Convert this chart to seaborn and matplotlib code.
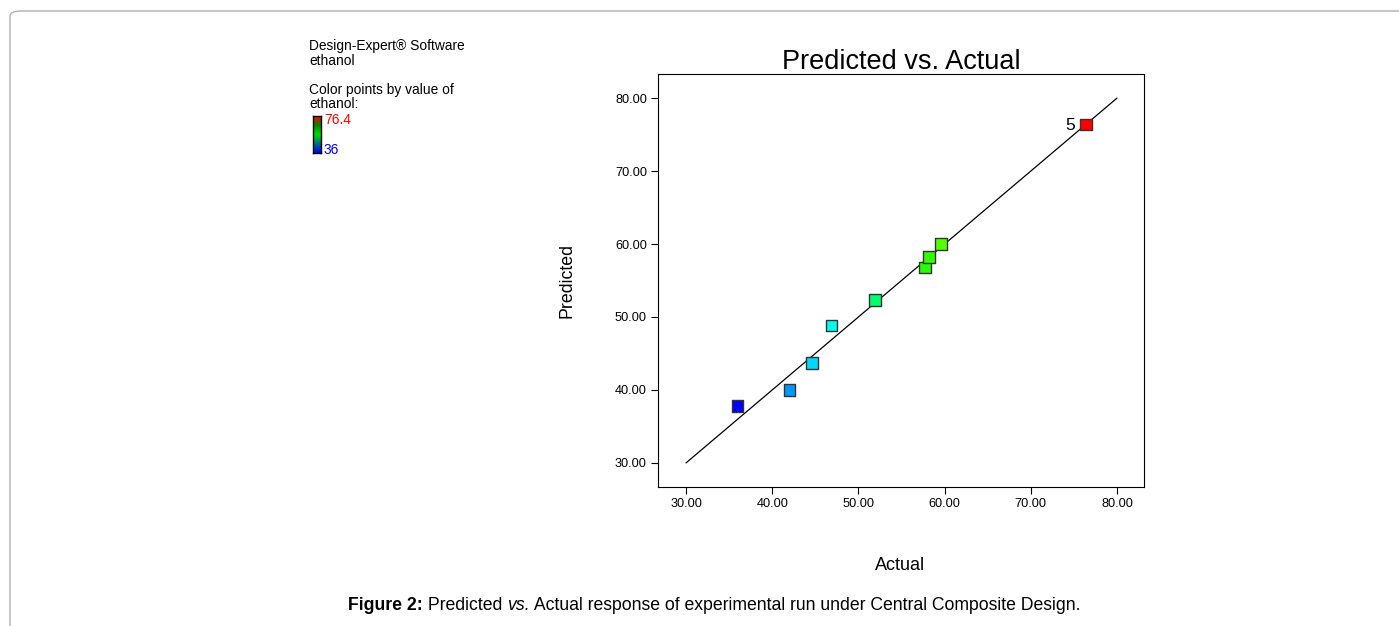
import numpy as np
import pandas as pd
import matplotlib
matplotlib.use("Agg")
import matplotlib.pyplot as plt
from matplotlib.colors import LinearSegmentedColormap, Normalize
from matplotlib.patches import FancyBboxPatch
from matplotlib.offsetbox import TextArea, HPacker, AnchoredOffsetbox
import seaborn as sns

# ---- data ----
actual = [36.0, 42.0, 44.6, 46.9, 51.9, 57.7, 58.2, 59.6, 76.4]
predicted = [37.8, 40.0, 43.7, 48.8, 52.3, 56.8, 58.2, 60.0, 76.4]
run_labels = ["", "", "", "", "", "", "", "", "5"]
line_x = [30.0, 80.0]
line_y = [30.0, 80.0]
ticks = [30.0, 40.0, 50.0, 60.0, 70.0, 80.0]
tick_labels = ["30.00", "40.00", "50.00", "60.00", "70.00", "80.00"]
color_min, color_max = 36.0, 76.4

sns.set_theme(style="white")
plt.rcParams['font.family'] = ['Liberation Sans', 'DejaVu Sans']
plt.rcParams['text.color'] = 'black'
plt.rcParams['axes.labelcolor'] = 'black'
plt.rcParams['xtick.color'] = 'black'
plt.rcParams['ytick.color'] = 'black'

W, H = 1399, 626
fig = plt.figure(figsize=(W / 100, H / 100), dpi=100)

def px_axes(x0, y0, x1, y1):
    return fig.add_axes([x0 / W, 1 - y1 / H, (x1 - x0) / W, (y1 - y0) / H])

# border
border = FancyBboxPatch((10 / W, -0.05), 1.2, (H - 11) / H + 0.05,
                        boxstyle="round,pad=0,rounding_size=0.008",
                        transform=fig.transFigure, fill=False,
                        edgecolor="#b0b0b0", linewidth=1.0)
fig.patches.append(border)

cmap = LinearSegmentedColormap.from_list(
    "de", [(0, "#0000ff"), (0.25, "#00ffff"), (0.5, "#00ff00"),
           (0.75, "#ffff00"), (1.0, "#ff0000")])
norm = Normalize(color_min, color_max)

ax = px_axes(658, 74, 1144, 487)
df = pd.DataFrame({"Actual": actual, "Predicted": predicted, "ethanol": actual})

sns.lineplot(x=line_x, y=line_y, ax=ax, color="black", linewidth=0.9)
sns.scatterplot(data=df, x="Actual", y="Predicted", hue="ethanol",
                palette=cmap, hue_norm=norm, marker="s", s=68,
                edgecolor="#333333", linewidth=1.0, legend=False, ax=ax, zorder=3)
for xa, yp, lab in zip(actual, predicted, run_labels):
    if lab:
        ax.annotate(lab, (xa, yp), xytext=(-8, -0.5), textcoords="offset points",
                    ha="right", va="center", fontsize=12.5)

ax.set_xlim(26.75, 83.13)
ax.set_ylim(26.7, 83.3)
ax.set_xticks(ticks)
ax.set_xticklabels(tick_labels, fontsize=9.2)
ax.set_yticks(ticks)
ax.set_yticklabels(tick_labels, fontsize=9.2)
ax.tick_params(axis="both", direction="out", length=5, width=0.8,
               bottom=True, left=True, colors="black", pad=3)
for sp in ax.spines.values():
    sp.set_color("black")
    sp.set_linewidth(0.8)
ax.set_xlabel("")
ax.set_ylabel("")
ax.set_title("Predicted vs. Actual", fontsize=19.5, pad=3.5, color="black")

fig.text(900 / W, 1 - 565 / H, "Actual", ha="center", va="center", fontsize=13)
fig.text(567 / W, 1 - 280 / H, "Predicted", ha="center", va="center",
         fontsize=12.8, rotation=90)

# left annotation
fs_left = 9.9
fig.text(309 / W, 1 - 46 / H, "Design-Expert® Software", ha="left", va="center", fontsize=fs_left)
fig.text(309 / W, 1 - 61 / H, "ethanol", ha="left", va="center", fontsize=fs_left)
fig.text(309 / W, 1 - 90 / H, "Color points by value of", ha="left", va="center", fontsize=fs_left)
fig.text(309 / W, 1 - 104 / H, "ethanol:", ha="left", va="center", fontsize=fs_left)

cax = px_axes(313, 116, 321, 153)
grad = np.linspace(1, 0, 100).reshape(-1, 1)
cax.imshow(grad, aspect="auto", cmap=LinearSegmentedColormap.from_list(
    "bar", [(0, "#0000ff"), (0.5, "#00dd00"), (0.75, "#008800"), (1.0, "#ff0000")]))
cax.set_xticks([])
cax.set_yticks([])
for sp in cax.spines.values():
    sp.set_color("black")
    sp.set_linewidth(1.0)
fig.text(324 / W, 1 - 120 / H, "76.4", ha="left", va="center", fontsize=fs_left, color="#ff0000")
fig.text(324 / W, 1 - 150 / H, "36", ha="left", va="center", fontsize=fs_left, color="#0000ff")

# caption
parts = [("Figure 2:", dict(weight="bold")), (" Predicted ", {}),
         ("vs.", dict(style="italic")),
         (" Actual response of experimental run under Central Composite Design.", {})]
boxes = [TextArea(t, textprops=dict(fontsize=12.7, color="black",
                                    family=['Liberation Sans', 'DejaVu Sans'], **kw))
         for t, kw in parts]
pack = HPacker(children=boxes, align="baseline", pad=0, sep=0)
ab = AnchoredOffsetbox(loc="center", child=pack, frameon=False,
                       bbox_to_anchor=(714 / W, 1 - 605 / H),
                       bbox_transform=fig.transFigure, pad=0, borderpad=0)
fig.add_artist(ab)

fig.savefig("out.png", dpi=100, facecolor="white")
